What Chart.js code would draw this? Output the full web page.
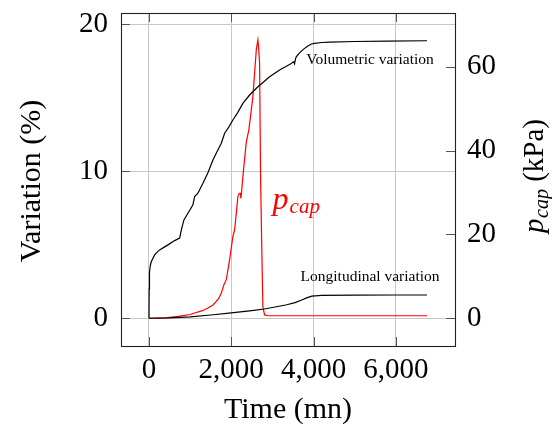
<!DOCTYPE html>
<html><head><meta charset="utf-8">
<script src="https://cdn.jsdelivr.net/npm/chart.js@4"></script>
<style>html,body{margin:0;padding:0;background:#fff}#wrap{width:552px;height:424px;position:relative}</style>
</head><body><div id="wrap"><canvas id="c" width="552" height="424"></canvas></div>
<script>
// ---- data ----
const volTime = [0, 5, 12, 30, 58, 100, 138, 200, 260, 360, 462, 624, 746, 787, 850, 947, 1069, 1110, 1190, 1312, 1433, 1555, 1650, 1759, 1839, 1940, 2040, 2160, 2283, 2446, 2648, 2800, 2932, 3050, 3175, 3320, 3459, 3520, 3539, 3560, 3580, 3661, 3760, 3863, 3950, 4025, 4200, 4389, 5000, 5800, 6760];
const volVar  = [0, 2.0, 3.1, 3.55, 3.86, 4.1, 4.31, 4.5, 4.65, 4.82, 4.99, 5.28, 5.45, 6.01, 6.69, 7.14, 7.71, 8.27, 8.5, 9.18, 9.9, 10.76, 11.3, 11.9, 12.58, 13.0, 13.48, 14.0, 14.61, 15.18, 15.74, 16.1, 16.42, 16.65, 16.88, 17.1, 17.33, 17.45, 17.3, 17.6, 17.78, 18.05, 18.3, 18.51, 18.65, 18.69, 18.75, 18.78, 18.82, 18.85, 18.87];

const lonTime = [0, 500, 1000, 1500, 2000, 2500, 2800, 3100, 3350, 3550, 3700, 3850, 3960, 4200, 5000, 6000, 6760];
const lonVar  = [0, 0.03, 0.1, 0.22, 0.36, 0.52, 0.63, 0.78, 0.92, 1.06, 1.22, 1.4, 1.5, 1.55, 1.57, 1.58, 1.58];

const pcapTime = [0, 400, 705, 1000, 1110, 1300, 1433, 1550, 1637, 1700, 1759, 1822, 1880, 1960, 2040, 2082, 2123, 2162, 2195, 2225, 2232, 2245, 2290, 2366, 2429, 2526, 2609, 2648, 2670, 2689, 2713, 2740, 2769, 2810, 2900, 4000, 6760];
const pcapVal  = [0, 0.1, 0.43, 0.9, 1.24, 1.8, 2.43, 3.1, 4.0, 4.8, 6.0, 8.0, 9.2, 13.9, 19.5, 21.1, 25.0, 29.0, 29.8, 29.8, 28.6, 29.5, 34.5, 42.0, 45.0, 52.8, 64.0, 66.4, 64.0, 60.8, 33.8, 18.0, 2.8, 0.8, 0.6, 0.6, 0.6];

const xTicks  = [0, 2000, 4000, 6000];
const yTicks  = [0, 10, 20];
const y1Ticks = [0, 20, 40, 60];

const xTitle = 'Time (mn)';
const yTitle = 'Variation (%)';
const y1TitleMain = 'p', y1TitleSub = 'cap', y1TitleRest = ' (kPa)';
const volLabel = 'Volumetric variation';
const lonLabel = 'Longitudinal variation';
const pcapLabelMain = 'p', pcapLabelSub = 'cap';

// ---- styling / layout ----
const SERIF = "'Liberation Serif', 'Times New Roman', serif";
const gridColor = '#c8c8c8';

function pts(xs, ys) { return xs.map((t, i) => ({x: t, y: ys[i]})); }
function setTicks(arr) { return s => { s.ticks = arr.map(v => ({value: v})); }; }
function noPad(s) { s.paddingTop = 0; s.paddingBottom = 0; s.paddingLeft = 0; s.paddingRight = 0; }

const framePlugin = {
  id: 'frame',
  afterDraw(chart) {
    const {ctx, chartArea: a, scales: {x, y, y1}} = chart;
    ctx.save();
    // inward tick marks
    ctx.strokeStyle = '#555';
    ctx.lineWidth = 1;
    const L = 9;
    ctx.beginPath();
    xTicks.forEach(v => {
      const px = Math.round(x.getPixelForValue(v)) + 0.5;
      ctx.moveTo(px, a.bottom); ctx.lineTo(px, a.bottom - L);
      ctx.moveTo(px, a.top); ctx.lineTo(px, a.top + L);
    });
    yTicks.forEach(v => {
      const py = Math.round(y.getPixelForValue(v)) + 0.5;
      ctx.moveTo(a.left, py); ctx.lineTo(a.left + L, py);
    });
    y1Ticks.forEach(v => {
      const py = Math.round(y1.getPixelForValue(v)) + 0.5;
      ctx.moveTo(a.right, py); ctx.lineTo(a.right - L, py);
    });
    ctx.stroke();
    // frame
    ctx.strokeStyle = '#222';
    ctx.lineWidth = 1.1;
    ctx.strokeRect(Math.round(a.left) + 0.5, Math.round(a.top) + 0.5, Math.round(a.right - a.left), Math.round(a.bottom - a.top));

    // in-plot labels
    ctx.fillStyle = '#000';
    ctx.textBaseline = 'alphabetic';
    ctx.textAlign = 'left';
    ctx.font = '15.5px ' + SERIF;
    ctx.fillText(volLabel, x.getPixelForValue(3823), y.getPixelForValue(17.32));
    ctx.fillText(lonLabel, x.getPixelForValue(3685), y.getPixelForValue(2.5));

    // p_cap label (red)
    ctx.fillStyle = '#ff0000';
    const lx = x.getPixelForValue(3005), ly = y.getPixelForValue(7.44);
    ctx.font = 'italic 32px ' + SERIF;
    ctx.fillText(pcapLabelMain, lx, ly);
    const pw = ctx.measureText(pcapLabelMain).width;
    ctx.font = 'italic 21px ' + SERIF;
    ctx.fillText(pcapLabelSub, lx + pw + 1, ly + 4);

    // axis titles
    ctx.fillStyle = '#000';
    ctx.font = '30px ' + SERIF;
    ctx.textAlign = 'center';
    ctx.fillText(xTitle, (a.left + a.right) / 2, 418);

    ctx.save();
    ctx.translate(39.5, (a.top + a.bottom) / 2 + 1.5);
    ctx.rotate(-Math.PI / 2);
    ctx.fillText(yTitle, 0, 0);
    ctx.restore();

    ctx.save();
    ctx.translate(543, 233);
    ctx.rotate(-Math.PI / 2);
    ctx.textAlign = 'left';
    ctx.font = 'italic 29px ' + SERIF;
    ctx.fillText(y1TitleMain, 0, 0);
    let w = ctx.measureText(y1TitleMain).width;
    ctx.font = 'italic 20px ' + SERIF;
    ctx.fillText(y1TitleSub, w + 0.5, 4.5);
    w += 0.5 + ctx.measureText(y1TitleSub).width;
    ctx.font = '29px ' + SERIF;
    ctx.fillText(y1TitleRest, w, 0);
    ctx.restore();

    ctx.restore();
  }
};

new Chart(document.getElementById('c'), {
  type: 'line',
  data: {
    datasets: [
      {label: volLabel, data: pts(volTime, volVar), yAxisID: 'y', borderColor: '#000', borderWidth: 1.2, pointRadius: 0, tension: 0, fill: false},
      {label: lonLabel, data: pts(lonTime, lonVar), yAxisID: 'y', borderColor: '#000', borderWidth: 1.2, pointRadius: 0, tension: 0, fill: false},
      {label: 'p_cap', data: pts(pcapTime, pcapVal), yAxisID: 'y1', borderColor: '#ff0000', borderWidth: 1.2, pointRadius: 0, tension: 0, fill: false}
    ]
  },
  options: {
    responsive: false,
    devicePixelRatio: 1,
    animation: false,
    layout: {padding: {top: 13, left: 0, right: 0, bottom: 0}},
    plugins: {legend: {display: false}, tooltip: {enabled: false}},
    scales: {
      x: {
        type: 'linear', position: 'bottom', min: -680, max: 7440,
        afterBuildTicks: setTicks(xTicks),
        afterFit: s => { s.height = 78; noPad(s); },
        grid: {color: gridColor, lineWidth: 1, drawTicks: false},
        border: {display: false},
        ticks: {font: {family: SERIF, size: 29, lineHeight: 1.2}, color: '#000', padding: 7, maxRotation: 0,
                callback: v => v.toLocaleString('en-US')}
      },
      y: {
        type: 'linear', position: 'left', min: -1.887, max: 20.757,
        afterBuildTicks: setTicks(yTicks),
        afterFit: s => { s.width = 121; noPad(s); },
        grid: {color: gridColor, lineWidth: 1, drawTicks: false},
        border: {display: false},
        ticks: {font: {family: SERIF, size: 29}, color: '#000', padding: 13}
      },
      y1: {
        type: 'linear', position: 'right', min: -6.62, max: 72.8,
        afterBuildTicks: setTicks(y1Ticks),
        afterFit: s => { s.width = 97; noPad(s); },
        grid: {drawOnChartArea: false, drawTicks: false},
        border: {display: false},
        ticks: {font: {family: SERIF, size: 29}, color: '#000', padding: 12}
      }
    }
  },
  plugins: [framePlugin]
});
</script>
</body></html>
